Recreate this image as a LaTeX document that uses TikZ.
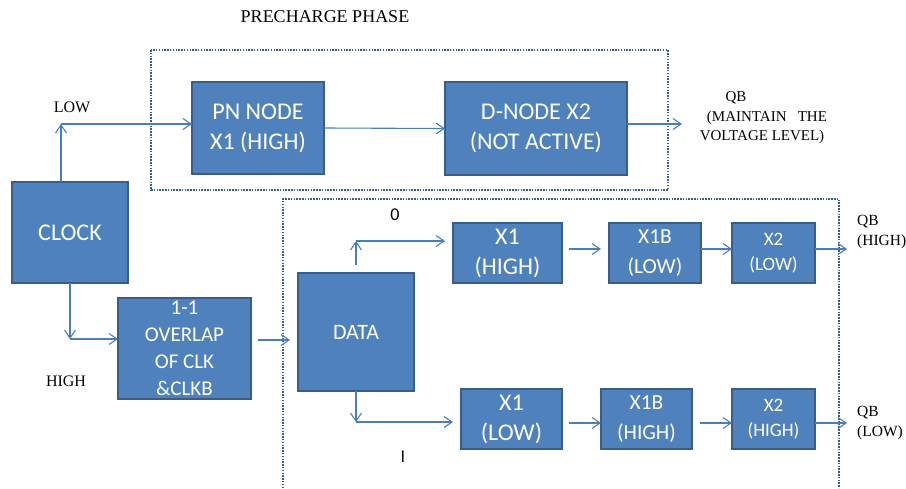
\documentclass[tikz,border=0pt]{standalone}
\usepackage{fontspec}
\setmainfont{Liberation Serif}
\newfontfamily\boxfont{Carlito}
\usetikzlibrary{arrows.meta}
\definecolor{boxfill}{HTML}{4F81BD}
\definecolor{boxline}{HTML}{385D8A}
\definecolor{arrcol}{HTML}{4A7EBB}
\tikzset{
  blk/.style={draw=boxline, fill=boxfill, line width=1.6pt, inner sep=0pt, outer sep=0pt,
    text=white, align=center, font=\boxfont\fontsize{24}{30}\selectfont},
  arr/.style={draw=arrcol, line width=1.1pt, -{Straight Barb[length=8pt,width=11pt]}},
  dotbox/.style={draw=boxline, line width=1.8pt, dash pattern=on 1.5pt off 1.3pt},
  lbl/.style={inner sep=0pt, text=black, font=\fontsize{16}{19.5}\selectfont},
  slbl/.style={inner sep=0pt, text=black, font=\boxfont\fontsize{18}{22}\selectfont}
}
\begin{document}
\begin{tikzpicture}[x=1pt,y=-1pt]
\useasboundingbox (0,0) rectangle (906,488);
% dotted frames
\draw[dotbox] (151,50) rectangle (668,190);
\draw[dotbox] (283,488) -- (283,199) -- (839,199) -- (839,488);
% blocks
\node[blk, minimum width=116pt, minimum height=101pt] (clock) at (70,232.5) {CLOCK};
\node[blk, minimum width=132pt, minimum height=92pt] (pn) at (258,128) {PN NODE\\X1 (HIGH)};
\node[blk, minimum width=182pt, minimum height=93pt] (dnode) at (536,128.5) {D-NODE X2\\(NOT ACTIVE)};
\node[blk, minimum width=133pt, minimum height=101pt] (ovl) at (184.5,348.5) {};
\node[inner sep=0pt, text=white, align=center, font=\boxfont\fontsize{21}{27}\selectfont] (ovltext) at (ovl.center) {1-1\\OVERLAP\\OF CLK\\\&CLKB};
\node[blk, minimum width=116pt, minimum height=118pt, font=\boxfont\fontsize{22}{27}\selectfont] (data) at (356,332) {DATA};
\node[blk, minimum width=109pt, minimum height=60pt] (x1a) at (507.5,253) {X1\\(HIGH)};
\node[blk, minimum width=92pt, minimum height=60pt, font=\boxfont\fontsize{21.5}{30}\selectfont] (x1ba) at (655,253) {X1B\\(LOW)};
\node[blk, minimum width=83pt, minimum height=60pt, font=\boxfont\fontsize{19}{25}\selectfont] (x2a) at (773.5,253) {X2\\(LOW)};
\node[blk, minimum width=101pt, minimum height=60pt] (x1b) at (511.5,419) {X1\\(LOW)};
\node[blk, minimum width=91pt, minimum height=60pt, font=\boxfont\fontsize{21.5}{30}\selectfont] (x1bb) at (646.5,419) {X1B\\(HIGH)};
\node[blk, minimum width=83pt, minimum height=60pt, font=\boxfont\fontsize{19}{25}\selectfont] (x2b) at (773.5,419) {X2\\(HIGH)};
% labels
\node[lbl, font=\fontsize{18}{20}\selectfont] (title) at (325,17) {PRECHARGE PHASE};
\node[lbl] (low) at (72,107) {LOW};
\node[lbl] (high) at (66,381) {HIGH};
\node[lbl, font=\fontsize{15}{19}\selectfont] (qb1) at (736,98) {QB};
\node[lbl, font=\fontsize{15}{19}\selectfont] (qb2) at (767,118) {(MAINTAIN\ \ \ THE};
\node[lbl, font=\fontsize{15}{19}\selectfont] (qb3) at (762,137) {VOLTAGE LEVEL)};
\node[lbl, anchor=west, align=left, font=\fontsize{15.5}{20}\selectfont] (qbh) at (857,232) {QB\\(HIGH)};
\node[lbl, anchor=west, align=left, font=\fontsize{15.5}{20}\selectfont] (qbl) at (857,423) {QB\\(LOW)};
\node[slbl] (zero) at (395,215) {0};
\node[slbl] (one) at (403,457) {I};
% helper coordinates
\coordinate (lowc) at (61,124);
\coordinate (highc) at (70,339);
\coordinate (odm) at (274,340);
\coordinate (d0) at (356,241);
\coordinate (d1) at (356,422);
\coordinate (qbtop) at (682,124);
\coordinate (qbhe) at (847,249);
\coordinate (qble) at (847,423);
% connectors
\draw[arr] (clock.north -| lowc) -- (lowc);
\draw[arr] (lowc) -- (lowc -| pn.west);
\draw[arr] (pn.east) -- (dnode.west);
\draw[arr] (dnode.east |- qbtop) -- (qbtop);
\draw[arr] (clock.south) -- (highc);
\draw[arr] (highc) -- (highc -| ovl.west);
\draw[arr, shorten <=7pt, shorten >=8pt] (odm -| ovl.east) -- (odm -| data.west);
\draw[arr, shorten <=8pt] (data.north) -- (d0);
\draw[arr, shorten >=8pt] (d0) -- (d0 -| x1a.west);
\draw[arr] (data.south) -- (d1);
\draw[arr, shorten >=8pt] (d1) -- (d1 -| x1b.west);
\draw[arr, shorten <=7pt, shorten >=8pt] ([yshift=4pt]x1a.east) -- ([yshift=4pt]x1ba.west);
\draw[arr] ([yshift=4pt]x1ba.east) -- ([yshift=4pt]x2a.west);
\draw[arr] (x2a.east |- qbhe) -- (qbhe);
\draw[arr, shorten <=7pt] ([yshift=-4pt]x1b.east) -- ([yshift=-4pt]x1bb.west);
\draw[arr, shorten <=8pt] ([yshift=-4pt]x1bb.east) -- ([yshift=-4pt]x2b.west);
\draw[arr] (x2b.east |- qble) -- (qble);
\end{tikzpicture}
\end{document}
